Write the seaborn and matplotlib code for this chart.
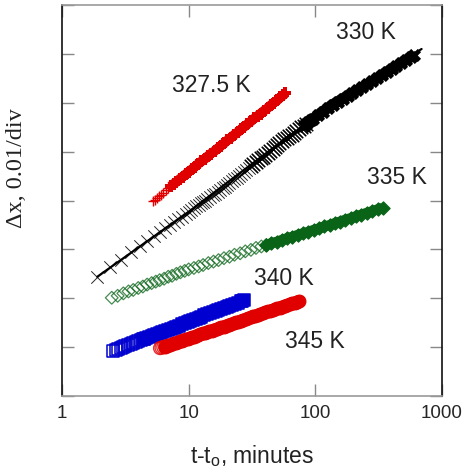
import matplotlib
matplotlib.use("Agg")
import matplotlib.pyplot as plt
from matplotlib.ticker import FixedLocator, NullFormatter, NullLocator
import seaborn as sns
import pandas as pd

# 327.5 K  (t - t0 in minutes, dx in 0.01 divisions)
t_3275 = [5.2, 5.4, 5.6, 5.8, 6.0, 6.3, 6.6, 6.9, 7.2, 7.6, 8.0, 8.5, 9.0, 9.5, 10, 10.6,
          11.2, 11.9, 12.6, 13.4, 14.2, 15, 16, 17, 18, 19, 20.2, 21.5, 23, 24.5, 26,
          27.5, 29, 31, 33, 35, 37, 39.5, 42, 44.5, 47, 50, 53, 56, 58]
y_3275 = [3.99, 4.02, 4.06, 4.09, 4.12, 4.16, 4.21, 4.25, 4.29, 4.34, 4.38, 4.44, 4.49,
          4.54, 4.59, 4.64, 4.69, 4.75, 4.80, 4.85, 4.91, 4.96, 5.01, 5.07, 5.12, 5.17,
          5.23, 5.28, 5.35, 5.40, 5.46, 5.51, 5.56, 5.62, 5.68, 5.73, 5.78, 5.84, 5.89,
          5.95, 6.00, 6.05, 6.11, 6.16, 6.19]

# 330 K
t_330 = [1.9, 2.4, 2.9, 3.5, 4.1, 4.7, 5.3, 5.9, 6.5, 7.1, 7.7, 8.3, 8.9, 9.5, 10.1,
         10.5, 11, 11.5, 12, 12.5, 13, 13.5, 14, 14.7, 15.5, 16.2, 17, 17.7, 18.5, 19.2,
         20, 21, 22, 23, 24, 25, 26, 27.2, 28.5, 29.7, 31, 32.5, 34, 35.5, 37, 38.5, 40,
         42, 44, 46, 48, 50, 52, 54.5, 57, 59.5, 62, 65, 68, 71, 74, 77.5, 81, 84.5, 88,
         92, 96, 105, 115, 125, 137, 150, 164, 180, 196, 215, 235, 257, 280, 306, 335,
         366, 400, 437, 478, 522, 570, 600]
y_330 = [2.44, 2.63, 2.78, 2.94, 3.07, 3.18, 3.27, 3.36, 3.43, 3.50, 3.56, 3.62, 3.67,
         3.73, 3.77, 3.80, 3.84, 3.88, 3.91, 3.94, 3.97, 4.00, 4.03, 4.07, 4.11, 4.14,
         4.18, 4.21, 4.25, 4.28, 4.31, 4.35, 4.39, 4.43, 4.47, 4.50, 4.54, 4.58, 4.63,
         4.66, 4.70, 4.75, 4.79, 4.82, 4.86, 4.90, 4.93, 4.98, 5.02, 5.06, 5.10, 5.14,
         5.17, 5.21, 5.25, 5.28, 5.31, 5.35, 5.39, 5.42, 5.46, 5.50, 5.53, 5.57, 5.60,
         5.64, 5.67, 5.75, 5.82, 5.89, 5.96, 6.02, 6.08, 6.14, 6.20, 6.26, 6.32, 6.38,
         6.44, 6.50, 6.57, 6.63, 6.69, 6.75, 6.82, 6.88, 6.94, 6.97]
# straight guide line drawn through the 330 K data
fit_t = [1.9, 10, 50, 130, 320, 690]
fit_y = [2.44, 3.77, 5.14, 5.92, 6.53, 7.10]

# 335 K
t_335 = [2.47, 2.75, 3.05, 3.35, 3.65, 4.0, 4.35, 4.7, 5.1, 5.5, 5.9, 6.4, 6.9, 7.4, 8.0,
         8.6, 9.3, 10, 11, 12, 13, 14.3, 15.7, 17.2, 19, 21, 23, 25.5, 28, 31, 34, 37.5,
         41, 45, 50, 55, 60, 66, 73, 80, 88, 97, 107, 118, 130, 143, 157, 173, 190, 210,
         230, 255, 280, 310, 340]
y_335 = [2.01, 2.05, 2.10, 2.14, 2.17, 2.21, 2.24, 2.28, 2.31, 2.34, 2.37, 2.40, 2.44,
         2.46, 2.50, 2.53, 2.56, 2.59, 2.62, 2.65, 2.68, 2.72, 2.75, 2.78, 2.82, 2.85,
         2.89, 2.92, 2.96, 2.99, 3.03, 3.06, 3.09, 3.13, 3.16, 3.20, 3.23, 3.26, 3.30,
         3.33, 3.36, 3.40, 3.43, 3.47, 3.50, 3.54, 3.57, 3.61, 3.64, 3.68, 3.71, 3.75,
         3.78, 3.82, 3.85]

# 340 K
t_340 = [2.54, 2.65, 2.77, 2.9, 3.03, 3.17, 3.32, 3.48, 3.65, 3.83, 4.0, 4.2, 4.4, 4.6,
         4.85, 5.1, 5.35, 5.6, 5.9, 6.2, 6.5, 6.85, 7.2, 7.6, 8.0, 8.4, 8.85, 9.3, 9.8,
         10.3, 10.8, 11.4, 12, 12.6, 13.3, 14, 14.7, 15.5, 16.3, 17.2, 18.1, 19, 20, 21,
         22.1, 23.3, 24.5, 25.8, 26.6, 27.5]
y_340 = [0.92, 0.94, 0.96, 0.98, 1.00, 1.02, 1.04, 1.06, 1.08, 1.10, 1.12, 1.14, 1.16,
         1.18, 1.20, 1.23, 1.25, 1.27, 1.29, 1.31, 1.33, 1.36, 1.38, 1.40, 1.42, 1.44,
         1.47, 1.49, 1.51, 1.53, 1.55, 1.58, 1.60, 1.62, 1.65, 1.67, 1.69, 1.71, 1.74,
         1.76, 1.78, 1.80, 1.83, 1.85, 1.87, 1.89, 1.91, 1.94, 1.95, 1.97]

# 345 K
t_345 = [5.94, 6.1, 6.3, 6.5, 6.7, 6.9, 7.15, 7.4, 7.65, 7.9, 8.2, 8.5, 8.8, 9.1, 9.45,
         9.8, 10.2, 10.6, 11, 11.4, 11.9, 12.4, 12.9, 13.4, 14, 14.6, 15.2, 15.9, 16.6,
         17.3, 18.1, 18.9, 19.8, 20.7, 21.6, 22.6, 23.6, 24.7, 25.8, 27, 28.2, 29.5,
         30.8, 32.2, 33.7, 35.2, 36.8, 38.5, 40.2, 42, 44, 46, 48, 50.2, 52.5, 55, 57.5,
         60, 62.8, 65.6, 68.6, 71.7, 74]
y_345 = [0.98, 0.99, 1.00, 1.01, 1.03, 1.04, 1.05, 1.06, 1.08, 1.09, 1.10, 1.12, 1.13,
         1.14, 1.16, 1.17, 1.19, 1.20, 1.21, 1.23, 1.25, 1.26, 1.28, 1.29, 1.31, 1.32,
         1.34, 1.36, 1.37, 1.39, 1.41, 1.42, 1.44, 1.46, 1.47, 1.49, 1.51, 1.52, 1.54,
         1.56, 1.57, 1.59, 1.61, 1.63, 1.64, 1.66, 1.68, 1.69, 1.71, 1.73, 1.74, 1.76,
         1.78, 1.80, 1.81, 1.83, 1.85, 1.86, 1.88, 1.90, 1.91, 1.93, 1.94]

labels = ["327.5 K", "330 K", "335 K", "340 K", "345 K"]
label_pos = [(15.2, 6.37), (250, 7.45), (438, 4.49), (56.9, 2.43), (99.3, 1.14)]

RED = "#e00000"
GREEN = "#0a6418"
BLUE = "#0000d0"

sns.set_style("ticks")
plt.rcParams["font.family"] = ["Liberation Sans", "DejaVu Sans"]
plt.rcParams["mathtext.fontset"] = "custom"
plt.rcParams["mathtext.rm"] = "Liberation Sans"
plt.rcParams["mathtext.it"] = "Liberation Sans:italic"

fig = plt.figure(figsize=(4.68, 4.77), dpi=100)
ax = fig.add_axes([0.1325, 0.1677, 0.8119, 0.8197])


def df(t, y):
    return pd.DataFrame({"t": t, "dx": y})


def series(t, y, k, color, band_lw, cap, open_kw, solid_kw):
    # sparse early points are drawn as open symbols; later the symbols pile up
    # into a solid band, drawn as a thick stroke through the same points
    sns.scatterplot(data=df(t[:k + 1], y[:k + 1]), x="t", y="dx", ax=ax, **open_kw)
    sns.lineplot(data=df(t[k:], y[k:]), x="t", y="dx", ax=ax, color=color,
                 lw=band_lw, solid_capstyle=cap, sort=False, estimator=None)
    sns.scatterplot(data=df(t[k:], y[k:]), x="t", y="dx", ax=ax, **solid_kw)


# 330 K crosses + guide line
sns.scatterplot(data=df(t_330[40:64], y_330[40:64]), x="t", y="dx", ax=ax,
                marker="x", s=95, color="black", linewidth=1.1)
series(t_330, y_330, 62, "black", 8.0, "butt",
       dict(marker="x", s=80, color="black", linewidth=0.7, alpha=0.85),
       dict(marker="X", s=90, color="black", linewidth=0))
sns.lineplot(data=df(fit_t, fit_y), x="t", y="dx", color="black", lw=1.6, ax=ax,
             sort=False, estimator=None)

series(t_3275, y_3275, 8, RED, 7.0, "butt",
       dict(marker="+", s=60, color=RED, linewidth=1.0),
       dict(marker="P", s=65, color=RED, linewidth=0))

series(t_335, y_335, 32, GREEN, 7.2, "butt",
       dict(marker="D", s=42, facecolor="none", edgecolor=GREEN, linewidth=0.9, alpha=0.75),
       dict(marker="D", s=45, color=GREEN, edgecolor=GREEN, linewidth=0.9))

series(t_340, y_340, 12, BLUE, 8.3, "butt",
       dict(marker="s", s=75, facecolor="none", edgecolor=BLUE, linewidth=1.1),
       dict(marker="s", s=75, color=BLUE, edgecolor=BLUE, linewidth=1.1))

series(t_345, y_345, 3, RED, 8.8, "round",
       dict(marker="o", s=85, facecolor="none", edgecolor=RED, linewidth=1.0, alpha=0.8),
       dict(marker="o", s=85, color=RED, edgecolor=RED, linewidth=0.8))

for lab, (tx, ty) in zip(labels, label_pos):
    ax.text(tx, ty, lab, fontsize=16.5, color="#222222", ha="center", va="center")

ax.set_xscale("log")
ax.set_xlim(1, 1000)
ax.set_ylim(0, 8)
ax.xaxis.set_major_locator(FixedLocator([1, 10, 100, 1000]))
ax.xaxis.set_minor_locator(NullLocator())
ax.set_xticklabels(["1", "10", "100", "1000"])
ax.yaxis.set_major_locator(FixedLocator(range(9)))
ax.yaxis.set_major_formatter(NullFormatter())
ax.tick_params(axis="both", direction="in", length=8.5, width=1.0, color="#888888",
               top=True, right=True, labelsize=13.5, pad=6)

for side in ["left", "right"]:
    ax.spines[side].set_color("#111111")
for side in ["top", "bottom"]:
    ax.spines[side].set_color("#999999")
for sp in ax.spines.values():
    sp.set_linewidth(1.2)

ax.set_xlabel(r"t-t$_{\mathrm{o}}$, minutes", fontsize=16.5, color="#222222", labelpad=15)
ax.set_ylabel("\u0394x, 0.01/div", fontsize=17.5, family=["Liberation Serif", "DejaVu Serif"],
              color="#222222")
ax.yaxis.set_label_coords(-0.092, 0.586)

fig.savefig("out.png", dpi=100)
